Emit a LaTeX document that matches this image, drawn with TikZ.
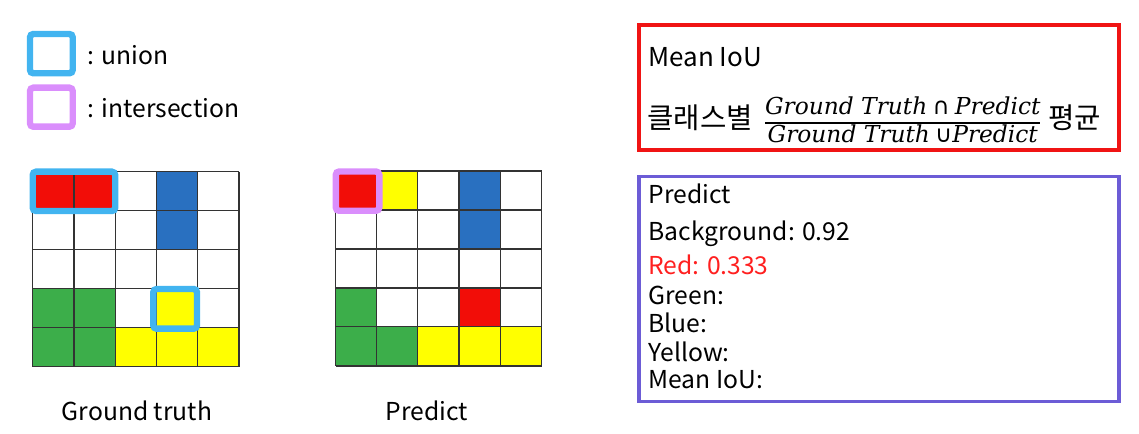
\documentclass[tikz,border=0pt]{standalone}
\usepackage{fontspec}
\setmainfont{Noto Sans CJK KR}
\newfontfamily\eqfont{DejaVu Serif}
\newfontfamily\opfont{DejaVu Sans}

\definecolor{cellred}{RGB}{242,13,8}
\definecolor{cellblue}{RGB}{41,112,192}
\definecolor{cellgreen}{RGB}{60,174,74}
\definecolor{cellyellow}{RGB}{255,255,0}
\definecolor{unionblue}{RGB}{66,180,240}
\definecolor{interpurple}{RGB}{218,142,252}
\definecolor{boxred}{RGB}{240,20,20}
\definecolor{boxpurple}{RGB}{108,92,214}
\definecolor{textred}{RGB}{255,32,32}

\newcommand{\eqtxt}[1]{{\eqfont\itshape #1}}

\tikzset{every picture/.style={line width=0.75pt}}
\tikzset{
  gridline/.style={draw=black!80, line width=1.1pt},
  unionbox/.style={draw=unionblue, line width=4.8pt, rounded corners=2.5pt},
  interbox/.style={draw=interpurple, line width=4.8pt, rounded corners=2.5pt},
  label/.style={font=\fontsize{18.5}{22}\selectfont, inner sep=0pt},
  info/.style={label, anchor=west},
}

\begin{document}
\begin{tikzpicture}[x=0.75pt,y=0.75pt,yscale=-1,xscale=1]
		\useasboundingbox (0,0) rectangle (1139,434);

		%Legend boxes
		\draw[unionbox] (30,34) rectangle (72.7,73.3);
		\draw[interbox] (30,87.7) rectangle (72.7,126.7);
		% Text Node
		\node[info] (unionlbl) at (87,55) {: union};
		% Text Node
		\node[info] (interlbl) at (87,108) {: intersection};

		%Ground truth cells
		\fill[cellred] (32.7,171.7) rectangle (115.7,210.7);
		\fill[cellblue] (156.7,171.7) rectangle (197.7,249.3);
		\fill[cellgreen] (32.7,288.3) rectangle (115.7,366.7);
		\fill[cellyellow] (156.7,288.3) rectangle (197.7,327.7);
		\fill[cellyellow] (115.7,327.7) rectangle (239,366.7);
		%Ground truth grid
		\foreach \x in {32.7,74,115.7,156.7,197.7,239}
			\draw[gridline] (\x,171.7) -- (\x,366.7);
		\foreach \y in {171.7,210.7,249.3,288.3,327.7,366.7}
			\draw[gridline] (32.7,\y) -- (239,\y);
		%Union outlines
		\draw[unionbox] (32.7,171.7) rectangle (115.2,211);
		\draw[unionbox] (153.3,289) rectangle (197,328.7);

		%Predict cells
		\fill[cellred] (335.7,171) rectangle (376.7,210);
		\fill[cellyellow] (376.7,171) rectangle (417.7,210);
		\fill[cellblue] (459,171) rectangle (500.3,249);
		\fill[cellgreen] (335.7,288) rectangle (376.7,366);
		\fill[cellred] (459,288) rectangle (500.3,326.7);
		\fill[cellgreen] (376.7,326.7) rectangle (417.7,366);
		\fill[cellyellow] (417.7,326.7) rectangle (541.7,366);
		%Predict grid
		\foreach \x in {335.7,376.7,417.7,459,500.3,541.7}
			\draw[gridline] (\x,171) -- (\x,366);
		\foreach \y in {171,210,249,288,326.7,366}
			\draw[gridline] (335.7,\y) -- (541.7,\y);
		%Intersection outline
		\draw[interbox] (335.8,171.5) rectangle (379.3,210.8);

		% Text Node
		\node[label] (gtlbl) at (137,411) {Ground truth};
		% Text Node
		\node[label] (predlbl) at (427,411) {Predict};

		%Mean IoU box
		\draw[boxred, line width=2.6pt] (639,25) rectangle (1119,150);
		% Text Node
		\node[info, font=\fontsize{19.5}{22}\selectfont] (miou) at (648,56.7) {Mean IoU};
		% Text Node
		\node[info, font=\fontsize{21.5}{24}\selectfont] (formula) at (647,123)
			{클래스별\hspace{9pt}{\fontsize{17.5}{20.5}\selectfont\setlength{\arrayrulewidth}{0.9pt}%
			\begin{tabular}{@{}c@{}}\eqtxt{Ground Truth} {\opfont ∩} \eqtxt{Predict}\\ \hline
			\eqtxt{Ground Truth} {\opfont ∪}\eqtxt{Predict}\end{tabular}}\hspace{6pt}평균};

		%Predict box
		\draw[boxpurple, line width=2.6pt] (639,176.7) rectangle (1119,401.7);
		% Text Node
		\node[info] (phead) at (648,194.3) {Predict};
		% Text Node
		\node[info] (pbg) at (648,233.3) {Background: 0.92};
		% Text Node
		\node[info, text=textred] (pred) at (648,265) {Red: 0.333};
		% Text Node
		\node[info] (pgreen) at (648,295) {Green:};
		% Text Node
		\node[info] (pblue) at (648,323.3) {Blue:};
		% Text Node
		\node[info] (pyellow) at (648,351.7) {Yellow:};
		% Text Node
		\node[info] (pmean) at (648,380) {Mean IoU:};
\end{tikzpicture}
\end{document}
